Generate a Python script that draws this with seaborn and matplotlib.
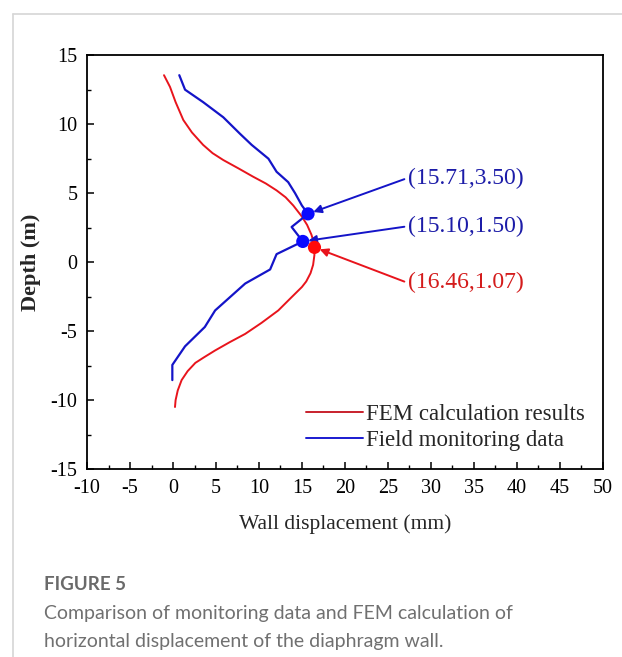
import matplotlib
matplotlib.use("Agg")
import matplotlib.pyplot as plt
import seaborn as sns
import pandas as pd
from matplotlib.lines import Line2D

# ---- data ----
fem_x = [-1.05, -0.35, 0.3, 1.2, 2.2, 3.5, 4.6, 5.85, 7.6, 9.3, 10.8, 12.05, 13.1, 14.0, 15.0,
         15.6, 16.1, 16.4, 16.46, 16.45, 16.3, 16.0, 15.5, 15.0, 13.7, 12.25, 10.3, 8.4, 6.6,
         4.9, 3.6, 2.6, 1.7, 1.0, 0.55, 0.3, 0.23]
fem_y = [13.55, 12.7, 11.6, 10.3, 9.4, 8.5, 7.9, 7.4, 6.8, 6.2, 5.7, 5.2, 4.7, 4.1, 3.3,
         2.7, 2.0, 1.4, 1.07, 0.5, -0.2, -0.8, -1.4, -1.8, -2.6, -3.5, -4.4, -5.2, -5.8,
         -6.4, -6.9, -7.3, -7.9, -8.55, -9.3, -10.0, -10.5]

field_x = [0.73, 1.4, 3.5, 5.85, 7.8, 9.15, 11.1, 12.05, 13.4, 14.2, 15.0, 15.71, 13.8, 15.1,
           12.05, 11.3, 8.4, 4.9, 3.7, 1.4, -0.08, -0.08]
field_y = [13.55, 12.5, 11.6, 10.5, 9.3, 8.5, 7.5, 6.55, 5.8, 5.0, 4.1, 3.5, 2.55, 1.5,
           0.58, -0.53, -1.55, -3.5, -4.7, -6.1, -7.45, -8.55]

series_names = ["FEM calculation results", "Field monitoring data"]
key_points_x = [15.71, 15.10, 16.46]
key_points_y = [3.50, 1.50, 1.07]
key_labels = ["(15.71,3.50)", "(15.10,1.50)", "(16.46,1.07)"]
label_pos_x = [27.3, 27.3, 27.3]
label_pos_y = [6.1, 2.6, -1.5]

x_ticks = list(range(-10, 51, 5))
y_ticks = list(range(-15, 16, 5))

# ---- style ----
sns.set_style("ticks")
plt.rcParams["font.family"] = ["Liberation Serif", "DejaVu Serif"]
plt.rcParams["axes.unicode_minus"] = False

fig = plt.figure(figsize=(6.22, 6.57), dpi=100)
ax = fig.add_axes([0.140, 0.286, 0.829, 0.630])

red = "#e8141c"
blue = "#1414c8"

df_fem = pd.DataFrame({"x": fem_x, "y": fem_y})
df_field = pd.DataFrame({"x": field_x, "y": field_y})
sns.lineplot(data=df_fem, x="x", y="y", sort=False, estimator=None, ax=ax,
             color=red, lw=1.4, legend=False)
sns.lineplot(data=df_field, x="x", y="y", sort=False, estimator=None, ax=ax,
             color=blue, lw=1.6, legend=False)

pt_colors = ["#0a0aff", "#0a0aff", "#ff0a0a"]
txt_colors = ["#1c1ca8", "#1c1ca8", "#d41c1c"]
line_colors = [blue, blue, red]
df_pts = pd.DataFrame({"x": key_points_x, "y": key_points_y, "c": key_labels})
sns.scatterplot(data=df_pts, x="x", y="y", hue="c", palette=dict(zip(key_labels, pt_colors)),
                s=90, edgecolor="none", ax=ax, legend=False, zorder=5)

for px, py, lab, tx, ty, tc, lc in zip(key_points_x, key_points_y, key_labels,
                                       label_pos_x, label_pos_y, txt_colors, line_colors):
    ax.annotate(lab, xy=(px, py), xytext=(tx, ty), fontsize=17, color=tc,
                ha="left", va="center",
                arrowprops=dict(arrowstyle="-|>", color=lc, lw=1.4, relpos=(0.0, 0.5),
                                mutation_scale=12, shrinkA=0, shrinkB=4))

ax.set_xlim(-10, 50)
ax.set_ylim(-15, 15)
ax.set_xticks(x_ticks)
ax.set_yticks(y_ticks)
ax.set_xticklabels([str(t) for t in x_ticks])
ax.set_yticklabels([str(t) for t in y_ticks])
ax.minorticks_on()
ax.xaxis.set_minor_locator(matplotlib.ticker.MultipleLocator(2.5))
ax.yaxis.set_minor_locator(matplotlib.ticker.MultipleLocator(2.5))
ax.tick_params(which="both", direction="in", top=False, right=False, colors="black",
               labelsize=14.5)
ax.tick_params(which="major", length=5, width=1.1, pad=7)
ax.tick_params(which="minor", length=3, width=1.0)
for s in ax.spines.values():
    s.set_linewidth(1.3)
    s.set_color("black")
    s.set_visible(True)

ax.set_xlabel("Wall displacement (mm)", fontsize=15.5, labelpad=12)
ax.set_ylabel("Depth (m)", fontsize=16, fontweight="bold", labelpad=7)

handles = [Line2D([], [], color="#c8202c", lw=1.4), Line2D([], [], color="#1a1ad0", lw=1.4)]
ax.legend(handles, series_names, loc="lower right", bbox_to_anchor=(1.0, 0.0),
          frameon=False, fontsize=16.5, handlelength=2.5, handletextpad=0.1,
          labelspacing=0.2, borderaxespad=0.4)

# card border
fig.add_artist(Line2D([0.021, 1.0], [1 - 13.5 / 657, 1 - 13.5 / 657], color="#d6d6d6", lw=1.2,
                      transform=fig.transFigure))
fig.add_artist(Line2D([0.021, 0.021], [0.0, 1 - 13.5 / 657], color="#d6d6d6", lw=1.2,
                      transform=fig.transFigure))

cap_font = ["Lato", "DejaVu Sans"]
fig.text(44 / 622, 1 - 584 / 657, "FIGURE 5", family=cap_font, fontsize=13.5,
         fontweight="bold", color="#6a6a6a", va="center", ha="left")
fig.text(44 / 622, 1 - 613 / 657, "Comparison of monitoring data and FEM calculation of",
         family=cap_font, fontsize=14, color="#707070", va="center", ha="left")
fig.text(44 / 622, 1 - 641 / 657, "horizontal displacement of the diaphragm wall.",
         family=cap_font, fontsize=14, color="#707070", va="center", ha="left")

fig.savefig("out.png", dpi=100, facecolor="white")
